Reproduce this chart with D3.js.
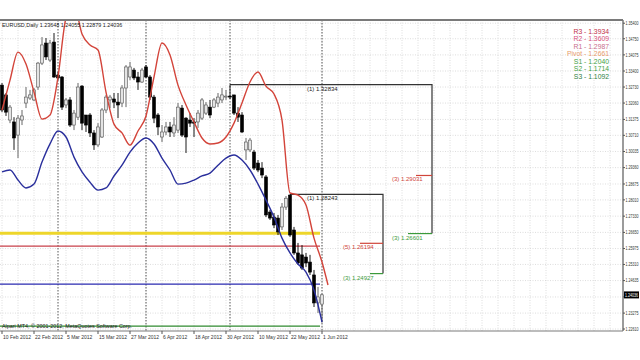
<!DOCTYPE html>
<html><head><meta charset="utf-8">
<script src="https://cdn.jsdelivr.net/npm/d3@7/dist/d3.min.js"></script>
<style>html,body{margin:0;padding:0;background:#fff;}svg{display:block;font-family:"Liberation Sans",Arial,sans-serif;}</style>
</head><body>
<svg id="c" width="640" height="360"></svg>
<script>
// ---- data (EURUSD daily, 10 Feb 2012 .. 1 Jun 2012, one entry per bar) ----
const opens  = [1.3281,1.3240,1.3135,1.3127,1.3072,1.3135,1.3206,1.3227,1.3219,1.3273,1.3373,1.3457,1.3386,1.3461,1.3323,1.3315,1.3198,1.3219,1.3114,1.3147,1.3277,1.3156,1.3156,1.3081,1.3031,1.3064,1.3177,1.3219,1.3223,1.3210,1.3206,1.3269,1.3315,1.3344,1.3315,1.3294,1.3357,1.3315,1.3231,1.3156,1.3064,1.3085,1.3106,1.3081,1.3093,1.3185,1.3143,1.3135,1.3127,1.3127,1.3143,1.3164,1.3189,1.3189,1.3206,1.3219,1.3231,1.3235,1.3240,1.3164,1.3156,1.3010,1.3010,1.3001,1.2955,1.2934,1.2897,1.2750,1.2729,1.2725,1.2688,1.2771,1.2821,1.2675,1.2579,1.2571,1.2562,1.2541,1.2487,1.2370,1.2365];
const closes = [1.3177,1.3168,1.3189,1.3060,1.3143,1.3152,1.3231,1.3240,1.3261,1.3373,1.3449,1.3399,1.3457,1.3315,1.3311,1.3189,1.3219,1.3114,1.3164,1.3273,1.3122,1.3114,1.3081,1.3031,1.3106,1.3177,1.3231,1.3231,1.3210,1.3198,1.3269,1.3357,1.3357,1.3311,1.3294,1.3344,1.3315,1.3231,1.3143,1.3106,1.3085,1.3106,1.3085,1.3114,1.3189,1.3072,1.3064,1.3122,1.3122,1.3164,1.3219,1.3198,1.3156,1.3219,1.3231,1.3240,1.3235,1.3231,1.3164,1.3147,1.3085,1.3043,1.3051,1.2934,1.2926,1.2905,1.2738,1.2725,1.2696,1.2667,1.2771,1.2808,1.2654,1.2579,1.2537,1.2516,1.2537,1.2499,1.2370,1.2395,1.2404];
const highs  = [1.3290,1.3248,1.3198,1.3147,1.3156,1.3177,1.3273,1.3261,1.3269,1.3378,1.3482,1.3478,1.3470,1.3499,1.3336,1.3319,1.3227,1.3231,1.3177,1.3290,1.3281,1.3156,1.3164,1.3093,1.3122,1.3185,1.3240,1.3240,1.3248,1.3248,1.3281,1.3365,1.3378,1.3353,1.3336,1.3353,1.3365,1.3323,1.3240,1.3164,1.3114,1.3127,1.3127,1.3147,1.3206,1.3198,1.3147,1.3164,1.3143,1.3177,1.3227,1.3210,1.3219,1.3227,1.3248,1.3269,1.3261,1.3283,1.3240,1.3189,1.3168,1.3060,1.3060,1.3010,1.2968,1.2959,1.2905,1.2759,1.2746,1.2738,1.2788,1.2817,1.2824,1.2688,1.2621,1.2612,1.2579,1.2571,1.2508,1.2437,1.2406];
const lows   = [1.3168,1.3152,1.3122,1.3010,1.2976,1.3114,1.3185,1.3219,1.3214,1.3261,1.3365,1.3386,1.3378,1.3311,1.3302,1.3177,1.3185,1.3106,1.3093,1.3135,1.3093,1.3085,1.3064,1.3010,1.3022,1.3060,1.3164,1.3185,1.3185,1.3143,1.3189,1.3189,1.3302,1.3302,1.3261,1.3290,1.3311,1.3219,1.3122,1.3072,1.3043,1.3072,1.3064,1.3064,1.3081,1.3064,1.2997,1.3106,1.3064,1.3102,1.3135,1.3156,1.3143,1.3185,1.3189,1.3206,1.3219,1.3223,1.3156,1.3127,1.3081,1.2968,1.3001,1.2926,1.2917,1.2892,1.2729,1.2717,1.2683,1.2654,1.2675,1.2759,1.2646,1.2571,1.2529,1.2508,1.2520,1.2487,1.2353,1.2328,1.2288];

const redBars  = [0,2,4,6,8,10,12,14,16,18,20,22,24,26,28,30,32,34,36,38,40,42,44,46,48,50,52,54,56,58,60,62,64,66,68,70,72,74,76,78,80,81.5];
const redLine  = [1.3177,1.3302,1.3419,1.3369,1.3252,1.3139,1.3156,1.3315,1.3562,1.3616,1.3495,1.3449,1.3428,1.3252,1.3118,1.3081,1.3030,1.3089,1.3152,1.3315,1.3457,1.3407,1.3281,1.3198,1.3127,1.3060,1.3035,1.3039,1.3064,1.3122,1.3206,1.3294,1.3336,1.3277,1.3244,1.3135,1.2830,1.2821,1.2780,1.2641,1.2541,1.2445];
const blueBars = [0,2,4,6,8,10,12,14,16,18,20,22,24,26,28,30,32,34,36,38,40,42,44,46,48,50,52,54,56,58,60,62,64,66,68,70,72,74,76,78,80];
const blueLine = [1.2918,1.2926,1.2884,1.2851,1.2867,1.2959,1.3035,1.3089,1.3064,1.2980,1.2918,1.2875,1.2842,1.2851,1.2901,1.2946,1.3001,1.3039,1.3060,1.3035,1.2976,1.2926,1.2867,1.2871,1.2884,1.2901,1.2913,1.2946,1.2976,1.2989,1.2968,1.2926,1.2867,1.2800,1.2729,1.2641,1.2579,1.2533,1.2499,1.2424,1.2290];

const levelPrices = [1.2661, 1.2608, 1.2449, 1.2273];
const levelColors = ["#eed62a", "#c8414a", "#2a2ab0", "#2f8a2f"];
const levelWidths = [3, 1.2, 1.3, 1.1];
const levelEndBar = 79.5;

const dateLabels = ["10 Feb 2012","22 Feb 2012","5 Mar 2012","15 Mar 2012","27 Mar 2012","6 Apr 2012","18 Apr 2012","30 Apr 2012","10 May 2012","22 May 2012","1 Jun 2012"];
const dateBars   = [0,8,16,24,32,40,48,56,64,72,80];
const monthSepBars = [14,36,57,80];

const priceTicks = [1.35400,1.34750,1.34075,1.33400,1.32730,1.32060,1.31375,1.30710,1.30035,1.29360,1.28675,1.28010,1.27330,1.26650,1.25975,1.25310,1.24635,1.23950,1.23275,1.22610];
const currentPrice = 1.24036;
const header = "EURUSD,Daily  1.23648 1.24055 1.22879 1.24036";
const footer = "Alpari MT4, \u00A9 2001-2012, MetaQuotes Software Corp.";

const pivotNames  = ["R3","R2","R1","Pivot","S1","S2","S3"];
const pivotValues = ["1.3934","1.3609","1.2987","1.2661","1.2040","1.1714","1.1092"];
const pivotColors = ["#c0304a","#d8507a","#c86f8c","#e89a6a","#3f9f3f","#3f9f3f","#2f7f3f"];

// Fibonacci brackets: (1) top, (3)/(5) targets
const brStartBar = [57, 72];
const brEndBar   = [107.5, 95.25];
const brTop      = [1.32834, 1.28243];
const brTopLabel = ["(1) 1.32834", "(1) 1.28243"];
const brRed      = [1.29031, 1.26194];
const brRedLabel = ["(3) 1.29031", "(5) 1.26194"];
const brRedFrom  = [103.5, 89.5];
const brGreen    = [1.26601, 1.24927];
const brGreenLabel = ["(3) 1.26601", "(3) 1.24927"];
const brGreenFrom  = [101.5, 92];
const topLabelBar = 76.25;

// ---- drawing ----
const svg = d3.select("#c");
const L = 0, R = 623, T = 20, B = 331;
const x = d3.scaleLinear().domain([0, 80]).range([2, 322]);
const y = d3.scaleLinear().domain([1.2261, 1.3540]).range([329.0, 23.2]);

svg.append("defs").append("clipPath").attr("id","clip")
  .append("rect").attr("x",L).attr("y",T).attr("width",R-L).attr("height",B-T);

const g = svg.append("g").attr("clip-path","url(#clip)");

// grid
const gridBars = d3.range(0, 160, 4);
g.selectAll(".vg").data(gridBars).join("line")
  .attr("x1",d=>x(d)).attr("x2",d=>x(d)).attr("y1",T).attr("y2",B)
  .attr("stroke","#cfcfcf").attr("stroke-width",0.7).attr("stroke-dasharray","1,1.5");
g.selectAll(".hg").data(priceTicks).join("line")
  .attr("x1",L).attr("x2",R).attr("y1",d=>y(d)).attr("y2",d=>y(d))
  .attr("stroke","#cfcfcf").attr("stroke-width",0.7).attr("stroke-dasharray","1,1.5");

// month separators
g.selectAll(".ms").data(monthSepBars).join("line")
  .attr("x1",d=>x(d)).attr("x2",d=>x(d)).attr("y1",T).attr("y2",B)
  .attr("stroke","#444").attr("stroke-width",0.9).attr("stroke-dasharray","1.5,1.5");

// horizontal levels
g.selectAll(".lv").data(levelPrices).join("line")
  .attr("x1",L).attr("x2",x(levelEndBar)).attr("y1",d=>y(d)).attr("y2",d=>y(d))
  .attr("stroke",(d,i)=>levelColors[i]).attr("stroke-width",(d,i)=>levelWidths[i]);

// brackets
brStartBar.forEach((s,i)=>{
  const bg = g.append("g");
  bg.append("path")
    .attr("d", `M${x(s)},${y(brTop[i])}H${x(brEndBar[i])}V${y(brGreen[i])}`)
    .attr("fill","none").attr("stroke","#333").attr("stroke-width",1.2);
  bg.append("line").attr("x1",x(brRedFrom[i])).attr("x2",x(brEndBar[i]))
    .attr("y1",y(brRed[i])).attr("y2",y(brRed[i])).attr("stroke","#d0453a").attr("stroke-width",1.2);
  bg.append("line").attr("x1",x(brGreenFrom[i])).attr("x2",x(brEndBar[i]))
    .attr("y1",y(brGreen[i])).attr("y2",y(brGreen[i])).attr("stroke","#3a9a3a").attr("stroke-width",1.2);
  bg.append("text").attr("x",x(topLabelBar)).attr("y",y(brTop[i])+6).attr("font-size",6)
    .attr("fill","#222").text(brTopLabel[i]);
  const lx = x(brEndBar[i]) - 40;
  bg.append("text").attr("x",lx).attr("y",y(brRed[i])+6).attr("font-size",6)
    .attr("fill","#d0453a").text(brRedLabel[i]);
  bg.append("text").attr("x",lx).attr("y",y(brGreen[i])+6).attr("font-size",6)
    .attr("fill","#3a9a3a").text(brGreenLabel[i]);
});

// candles
const bars = opens.map((o,i)=>({i,o,c:closes[i],h:highs[i],l:lows[i]}));
const cg = g.append("g");
cg.selectAll(".wk").data(bars).join("line")
  .attr("x1",d=>x(d.i)).attr("x2",d=>x(d.i)).attr("y1",d=>y(d.h)).attr("y2",d=>y(d.l))
  .attr("stroke",d=>d.c>=d.o?"#555":"#000").attr("stroke-width",0.9);
cg.selectAll(".bd").data(bars).join("rect")
  .attr("x",d=>x(d.i)-1.5).attr("width",3)
  .attr("y",d=>y(Math.max(d.o,d.c)))
  .attr("height",d=>Math.max(0.8, Math.abs(y(d.o)-y(d.c))))
  .attr("fill",d=>d.c>=d.o?"#e4e4e4":"#000")
  .attr("stroke",d=>d.c>=d.o?"#555":"#000").attr("stroke-width",0.6);

// indicator lines
const redPts = redBars.map((b,i)=>[x(b), y(redLine[i])]);
const bluePts = blueBars.map((b,i)=>[x(b), y(blueLine[i])]);
const ln = d3.line().curve(d3.curveMonotoneX);
g.append("path").attr("d", ln(redPts)).attr("fill","none").attr("stroke","#d3443a").attr("stroke-width",1.4);
g.append("path").attr("d", ln(bluePts)).attr("fill","none").attr("stroke","#2a2f9c").attr("stroke-width",1.4);

// header & footer
svg.append("text").attr("x",2).attr("y",T+7).attr("font-size",5.4).attr("fill","#222").text(header);
svg.append("text").attr("x",2).attr("y",y(levelPrices[3])+2).attr("font-size",5.4).attr("fill","#222").text(footer);

// pivot legend
svg.selectAll(".pv").data(pivotNames).join("text")
  .attr("x",609).attr("y",(d,i)=>33.5+i*7.5).attr("text-anchor","end")
  .attr("font-size",6.8).attr("fill",(d,i)=>pivotColors[i])
  .text((d,i)=>`${d} - ${pivotValues[i]}`);

// frame
svg.append("line").attr("x1",0).attr("x2",R).attr("y1",T).attr("y2",T).attr("stroke","#7a7a7a").attr("stroke-width",2);
svg.append("line").attr("x1",R).attr("x2",R).attr("y1",T).attr("y2",B).attr("stroke","#7a7a7a").attr("stroke-width",1.5);
svg.append("line").attr("x1",0).attr("x2",R).attr("y1",B).attr("y2",B).attr("stroke","#7a7a7a").attr("stroke-width",1.2);

// price axis
const pa = svg.append("g");
const yBox = y(currentPrice);
const shownTicks = priceTicks.filter(d => Math.abs(y(d) - yBox) > 5);
pa.selectAll("line").data(priceTicks).join("line")
  .attr("x1",R).attr("x2",R+2).attr("y1",d=>y(d)).attr("y2",d=>y(d)).attr("stroke","#555");
pa.selectAll("text").data(shownTicks).join("text")
  .attr("x",R+2.5).attr("y",d=>y(d)+1.8).attr("font-size",4.6).attr("fill","#333")
  .attr("textLength",13).attr("lengthAdjust","spacingAndGlyphs")
  .text(d=>d3.format(".5f")(d));
pa.append("rect").attr("x",R+1).attr("y",yBox-3.5).attr("width",15).attr("height",7).attr("fill","#000");
pa.append("text").attr("x",R+2).attr("y",yBox+1.8).attr("font-size",4.6).attr("fill","#fff")
  .attr("textLength",13).attr("lengthAdjust","spacingAndGlyphs")
  .text(d3.format(".5f")(currentPrice));

// date axis
const da = svg.append("g");
da.selectAll("line").data(dateBars).join("line")
  .attr("x1",d=>x(d)).attr("x2",d=>x(d)).attr("y1",B).attr("y2",B+3).attr("stroke","#555");
da.selectAll("text").data(dateLabels).join("text")
  .attr("x",(d,i)=>x(dateBars[i])+1).attr("y",B+7.5).attr("font-size",5).attr("fill","#333")
  .text(d=>d);
</script>
</body></html>
